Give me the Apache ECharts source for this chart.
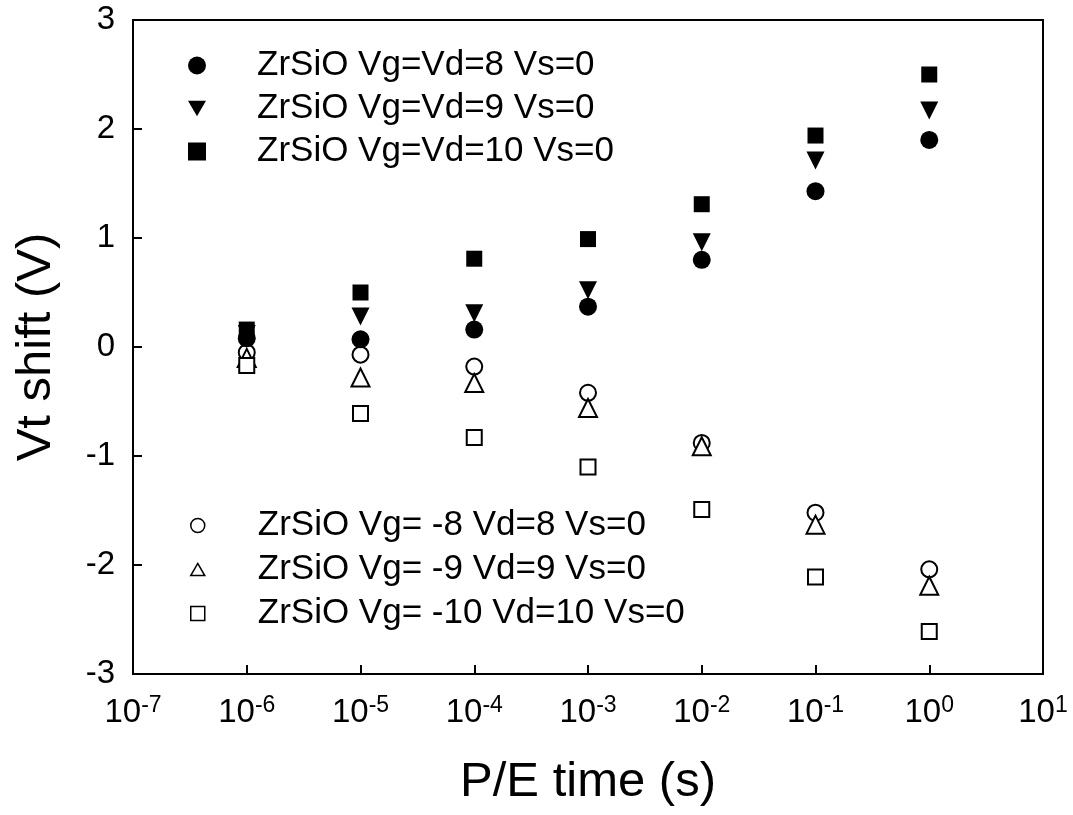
<!DOCTYPE html>
<html>
<head>
<meta charset="utf-8">
<script src="https://cdn.jsdelivr.net/npm/echarts@6/dist/echarts.min.js"></script>
<style>html,body{margin:0;padding:0;background:#fff}#c{width:1073px;height:815px}</style>
</head>
<body>
<div id="c"></div>
<script>
var times = [1e-6, 1e-5, 1e-4, 1e-3, 1e-2, 1e-1, 1e0];
var xTickExponents = [-7, -6, -5, -4, -3, -2, -1, 0, 1];
var yTicks = [-3, -2, -1, 0, 1, 2, 3];
var names = [
  'ZrSiO Vg=Vd=8 Vs=0',
  'ZrSiO Vg=Vd=9 Vs=0',
  'ZrSiO Vg=Vd=10 Vs=0',
  'ZrSiO Vg= -8 Vd=8 Vs=0',
  'ZrSiO Vg= -9 Vd=9 Vs=0',
  'ZrSiO Vg= -10 Vd=10 Vs=0'
];
var pos8  = [0.08, 0.07, 0.16, 0.37, 0.80, 1.43, 1.90];
var pos9  = [0.12, 0.28, 0.31, 0.52, 0.96, 1.71, 2.17];
var pos10 = [0.16, 0.50, 0.81, 0.99, 1.31, 1.94, 2.50];
var neg8  = [-0.05, -0.07, -0.18, -0.42, -0.88, -1.52, -2.04];
var neg9  = [-0.10, -0.28, -0.33, -0.56, -0.91, -1.63, -2.19];
var neg10 = [-0.17, -0.61, -0.83, -1.10, -1.49, -2.11, -2.61];

function pairs(ys){ return times.map(function(t,i){ return [t, ys[i]]; }); }
var FONT = 'Liberation Sans';
var downTri = 'path://M0,0L10,0L5,8.66Z';
var upTri = 'path://M5,0L10,8.66L0,8.66Z';

function filled(name, ys, sym, size){
  return {type:'scatter', name:name, data:pairs(ys), symbol:sym, symbolSize:size,
    itemStyle:{color:'#000', opacity:1}, z:3};
}
function open(name, ys, sym, size){
  return {type:'scatter', name:name, data:pairs(ys), symbol:sym, symbolSize:size,
    itemStyle:{color:'#fff', borderColor:'#000', borderWidth:2, opacity:1}, z:2};
}

var chart = echarts.init(document.getElementById('c'), null, {renderer:'canvas'});
chart.setOption({
  animation:false,
  backgroundColor:'#fff',
  textStyle:{fontFamily:FONT, color:'#000'},
  grid:{left:133, top:20, right:30, bottom:141, show:true, borderColor:'#000', borderWidth:2, backgroundColor:'transparent'},
  xAxis:{
    type:'log', logBase:10, min:1e-7, max:10,
    name:'P/E time (s)', nameLocation:'middle', nameGap:84,
    nameTextStyle:{fontSize:49, fontFamily:FONT, color:'#000'},
    axisLine:{onZero:false, lineStyle:{color:'#000', width:2}},
    axisTick:{inside:true, length:9, lineStyle:{color:'#000', width:2}},
    minorTick:{show:false},
    splitLine:{show:false},
    axisLabel:{
      margin:20,
      formatter:function(v){
        var e = Math.round(Math.log10(v));
        return '{b|10}{s|' + e + '}';
      },
      rich:{
        b:{fontSize:33, fontFamily:FONT, color:'#000', verticalAlign:'bottom', lineHeight:35},
        s:{fontSize:23, fontFamily:FONT, color:'#000', verticalAlign:'top', lineHeight:35, padding:[0,0,12,0]}
      }
    }
  },
  yAxis:{
    type:'value', min:-3, max:3, interval:1,
    name:'Vt shift (V)', nameLocation:'middle', nameGap:72,
    nameTextStyle:{fontSize:49, fontFamily:FONT, color:'#000'},
    axisLine:{onZero:false, lineStyle:{color:'#000', width:2}},
    axisTick:{inside:true, length:9, lineStyle:{color:'#000', width:2}},
    splitLine:{show:false},
    axisLabel:{fontSize:33, fontFamily:FONT, color:'#000', margin:18}
  },
  legend:[
    {
      data:names.slice(0,3), orient:'vertical', left:183, top:43, itemGap:8,
      itemWidth:18, itemHeight:18,
      textStyle:{fontSize:35, fontFamily:FONT, color:'#000', padding:[0,0,0,46]}
    },
    {
      data:names.slice(3,6), orient:'vertical', left:185, top:503, itemGap:9,
      itemWidth:14, itemHeight:14,
      itemStyle:{borderWidth:1.5},
      textStyle:{fontSize:35, fontFamily:FONT, color:'#000', padding:[0,0,0,48]}
    }
  ],
  series:[
    filled(names[0], pos8, 'circle', 18),
    filled(names[1], pos9, downTri, 18),
    filled(names[2], pos10, 'rect', 16),
    open(names[3], neg8, 'circle', 16),
    open(names[4], neg9, upTri, 18),
    open(names[5], neg10, 'rect', 15)
  ]
});
</script>
</body>
</html>
